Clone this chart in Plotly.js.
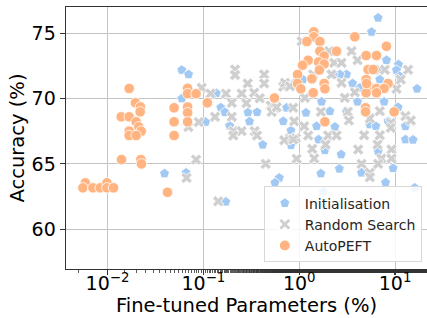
<!DOCTYPE html>
<html>
<head>
<meta charset="utf-8">
<script src="https://cdn.plot.ly/plotly-3.0.1.min.js"></script>
<style>html,body{margin:0;padding:0;overflow:hidden;background:#fff}#chart{width:427px;height:318px}</style>
</head>
<body>
<div id="chart"></div>
<script>
// Initialisation
var initX = [0.0596,0.0701,0.0596,0.0393,0.066,0.1365,0.152,0.168,0.1054,0.188,0.292,0.363,0.303,0.416,0.681,0.739,0.82,0.82,0.619,0.558,0.171,0.902,1.175,2.089,3.117,1.518,2.355,1.711,1.592,1.853,2.738,2.623,1.683,1.778,4.056,7.68,10.75,5.45,6.30,8.45,12.83,12.83,15.4,6.65,9.53,4.467,7.96,16.04,6.65,5.68,8.13,10.85,16.95,3.117,2.655,2.26,3.6,1.093,4.29,10.35,6.92,11.19];
var initY = [72.18,71.84,70.0,64.26,64.32,70.4,69.31,68.95,68.2,67.91,68.93,68.95,68.24,66.46,68.26,69.29,67.55,66.43,63.93,63.55,62.1,71.2,68.91,69.03,68.98,67.88,67.83,69.75,66.86,66.04,65.72,64.62,64.26,62.88,69.75,69.75,69.33,68.01,67.88,68.26,67.88,66.86,66.84,65.97,64.66,64.32,63.57,63.17,76.17,75.09,72.93,72.6,70.74,71.84,71.84,71.84,71.15,71.45,70.82,72.17,71.45,71.7];
// Random Search
var rsX = [0.214,0.214,0.431,0.431,0.29,0.0962,0.1189,0.172,0.251,0.339,0.387,0.198,0.281,0.505,0.558,0.866,0.516,0.1324,0.198,0.0895,0.0698,0.205,0.251,0.343,0.205,0.363,0.681,0.71,0.8,0.924,0.0839,0.447,0.0668,0.143,0.698,0.866,0.94,0.887,1.127,1.24,2.004,2.453,1.884,1.365,1.433,0.582,1.683,3.217,2.99,1.146,3.294,6.93,5.45,12.83,14.57,9.02,9.02,4.75,6.93,6.56,4.12,9.17,7.21,9.17,4.47,6.65,5.45,5.45,3.515,4.056,6.92,7.81,13.65,11.46,10.35,3.8,0.8,2.315,2.765,2.765,2.053,2.175,1.4,1.06];
var rsY = [72.22,71.8,71.84,71.15,71.15,70.82,70.38,70.38,70.38,70.44,70.02,69.67,69.64,69.46,69.29,69.29,68.98,68.6,68.6,68.2,67.82,67.51,67.51,67.51,67.17,67.17,70.9,71.2,66.96,66.96,65.33,65.0,63.93,62.14,66.81,66.86,65.39,68.26,67.88,67.17,67.17,67.17,66.48,66.15,65.41,69.33,68.98,68.98,70.05,70.05,68.32,69.03,68.47,68.65,68.32,68.14,67.76,67.19,67.19,66.48,66.1,66.1,65.41,65.41,65.0,65.0,64.32,63.98,73.62,72.93,72.2,72.2,72.2,71.45,70.74,70.48,70.94,72.73,72.73,71.2,73.62,71.84,71.84,74.38];
// AutoPEFT
var apX = [0.00587,0.00554,0.00705,0.00839,0.00986,0.00986,0.01155,0.01683,0.01958,0.02207,0.0139,0.01683,0.02192,0.0199,0.02123,0.01683,0.02245,0.01683,0.0199,0.014,0.0223,0.0226,0.0495,0.0495,0.0495,0.0422,0.0685,0.0685,0.0839,0.110,0.0685,0.0685,0.0685,0.552,1.42,1.42,1.203,1.643,1.643,2.45,1.82,1.24,1.592,1.82,1.623,0.962,1.356,1.82,0.962,1.04,1.853,1.4,1.084,1.853,3.8,8.13,4.99,6.4,5.23,5.9,4.99,8.45,5.23,6.4,7.68,4.99,6.4,4.92,4.92,9.77,5.04];
var apY = [63.55,63.17,63.17,63.17,63.55,63.17,63.17,70.77,69.67,69.36,68.6,68.6,68.98,68.22,67.83,67.51,67.5,67.17,67.17,65.33,65.33,65.0,69.29,68.22,67.17,62.83,70.78,70.37,70.37,69.67,69.35,68.91,68.22,70.04,75.1,74.72,74.36,74.36,73.62,73.62,73.25,72.93,72.79,72.64,72.18,71.84,71.51,71.15,71.15,70.74,70.74,70.44,72.55,68.22,74.72,74.0,73.29,73.29,72.22,72.22,71.45,71.15,70.94,70.77,70.77,70.44,70.44,69.29,68.98,68.98,71.15];

var seriesNames = ["Initialisation", "Random Search", "AutoPEFT"];
var xTickVals = [0.01, 0.1, 1, 10];
var xTickText = ["10<sup>\u22122</sup>", "10<sup>\u22121</sup>", "10<sup>0</sup>", "10<sup>1</sup>"];
var yTickVals = [60, 65, 70, 75];

var font = "DejaVu Sans, Liberation Sans, sans-serif";
var traces = [
  {x: initX, y: initY, name: seriesNames[0], type: "scatter", mode: "markers",
   marker: {symbol: "pentagon", size: 10.5, color: "#a1c9f4", line: {color: "#ffffff", width: 0.8}}},
  {x: rsX, y: rsY, name: seriesNames[1], type: "scatter", mode: "markers",
   marker: {symbol: "x", size: 10, color: "#cfcfcf", line: {color: "#ffffff", width: 0.8}}},
  {x: apX, y: apY, name: seriesNames[2], type: "scatter", mode: "markers",
   marker: {symbol: "circle", size: 10.5, color: "#ffb482", line: {color: "#ffffff", width: 0.8}}}
];

var layout = {
  width: 427, height: 318,
  margin: {l: 66, r: 0, t: 7, b: 49},
  paper_bgcolor: "#ffffff", plot_bgcolor: "#ffffff",
  font: {family: font, color: "#000000", size: 19},
  showlegend: true,
  legend: {x: 0.548, y: 0.025, xanchor: "left", yanchor: "bottom",
    bgcolor: "rgba(255,255,255,0.85)", bordercolor: "#d9d9d9", borderwidth: 1,
    font: {family: font, size: 14, color: "#262626"}, itemsizing: "constant", tracegroupgap: 0},
  xaxis: {
    type: "log", range: [-2.433, 1.333],
    tickvals: xTickVals, ticktext: xTickText,
    ticks: "outside", ticklen: 5, tickwidth: 1.2, tickcolor: "#333333",
    ticklabelstandoff: -8,
    tickfont: {family: font, size: 19, color: "#000000"},
    showgrid: true, gridcolor: "#c4c4c4", gridwidth: 1.1,
    showline: true, linecolor: "#333333", linewidth: 1.4, mirror: true,
    zeroline: false,
    minor: {ticks: "outside", ticklen: 3, tickwidth: 0.8, tickcolor: "#333333", showgrid: false},
    title: {text: "Fine-tuned Parameters (%)", font: {family: font, size: 19.5, color: "#000000"}, standoff: 5}
  },
  yaxis: {
    range: [56.96, 77.0],
    tickvals: yTickVals, ticks: "outside", ticklen: 5, tickwidth: 1.2, tickcolor: "#333333",
    tickfont: {family: font, size: 19, color: "#000000"},
    showgrid: true, gridcolor: "#c4c4c4", gridwidth: 1.1,
    showline: true, linecolor: "#333333", linewidth: 1.4, mirror: false,
    zeroline: false,
    title: {text: "Accuracy (%)", font: {family: font, size: 19.5, color: "#000000"}, standoff: 1}
  }
};

Plotly.newPlot("chart", traces, layout, {staticPlot: true, displayModeBar: false});
</script>
</body>
</html>
